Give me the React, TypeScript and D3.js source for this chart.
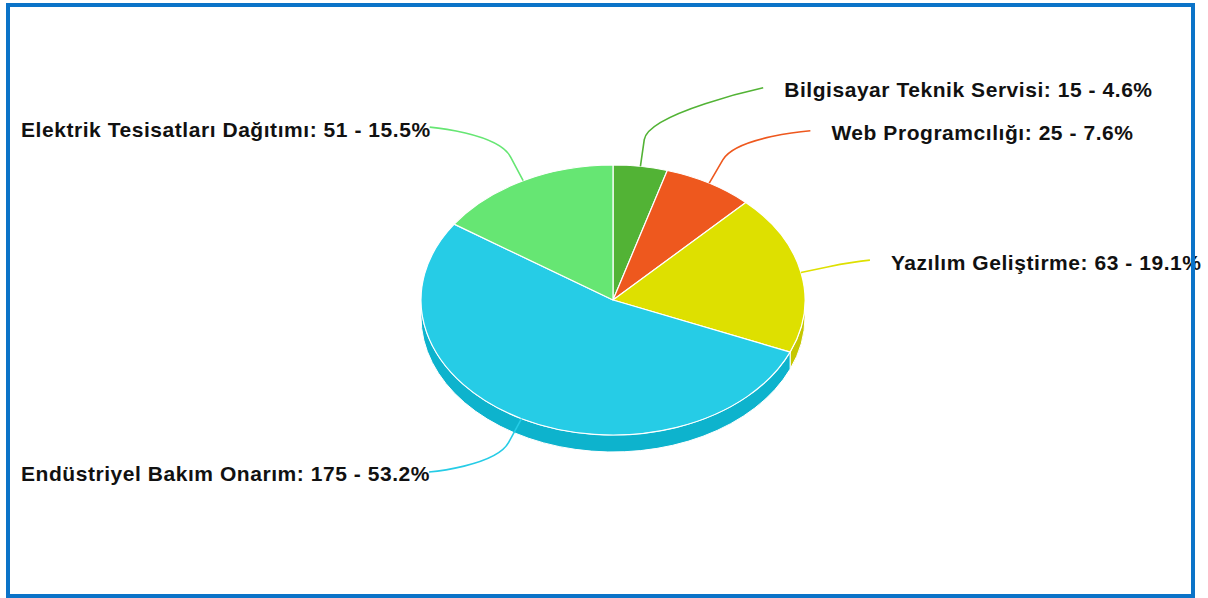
import React, { useMemo } from 'react';
import * as d3 from 'd3';

// ---- data ----
const categories = [
  'Bilgisayar Teknik Servisi',
  'Web Programcılığı',
  'Yazılım Geliştirme',
  'Endüstriyel Bakım Onarım',
  'Elektrik Tesisatları Dağıtımı',
];
const values = [15, 25, 63, 175, 51];
const colors = ['#52b335', '#ee581e', '#dee000', '#26cce6', '#66e673'];

// ---- layout ----
const W = 1208;
const H = 598;
const CX = 613;
const CY = 300;
const RX = 192;
const RY = 135;
const DEPTH = 17;
const FONT_SIZE = 21;
const LS = 0.55;
const FONT = `bold ${FONT_SIZE}px "Liberation Sans", Arial, sans-serif`;
const LABEL_K = 195.6;
const LABEL_CY = 300;
const LABEL_R = 260;
const GAP = 43;
const BREAK = 27;
const LEFT_MIN = 20;
const RIGHT_PAD = 21;

function pt(a: number, dy = 0): [number, number] {
  return [CX + RX * Math.sin(a), CY - RY * Math.cos(a) + dy];
}

function sideColor(c: string) {
  const col = d3.rgb(c);
  return d3.rgb(Math.max(0, col.r - 25.5), Math.max(0, col.g - 25.5), Math.max(0, col.b - 25.5)).formatHex();
}

function measure(text: string) {
  try {
    const ctx = document.createElement('canvas').getContext('2d')!;
    ctx.font = FONT;
    return ctx.measureText(text).width + LS * text.length;
  } catch (e) {
    return text.length * FONT_SIZE * 0.55;
  }
}

export default function App() {
  const total = d3.sum(values);
  const arcs = useMemo(
    () => d3.pie<number>().sort(null).value((d) => d)(values),
    []
  );
  const arcGen = d3.arc<d3.PieArcDatum<number>>().innerRadius(0).outerRadius(RX);

  // sides
  const sides = arcs
    .map((a, i) => {
      const s = Math.max(a.startAngle, Math.PI / 2);
      const e = Math.min(a.endAngle, (3 * Math.PI) / 2);
      if (e <= s) return null;
      const p0 = pt(s);
      const p1 = pt(e);
      const large = e - s > Math.PI ? 1 : 0;
      const d = `M${p0[0]},${p0[1]} A${RX},${RY} 0 ${large} 1 ${p1[0]},${p1[1]} L${p1[0]},${p1[1] + DEPTH} A${RX},${RY} 0 ${large} 0 ${p0[0]},${p0[1] + DEPTH} Z`;
      return { d, fill: sideColor(colors[i]), key: i };
    })
    .filter(Boolean) as { d: string; fill: string; key: number }[];

  // labels
  const labels = arcs.map((a, i) => {
    const mid = (a.startAngle + a.endAngle) / 2;
    const right = mid < Math.PI;
    const text = `${categories[i]}: ${values[i]} - ${((values[i] / total) * 100).toFixed(1)}%`;
    return {
      i,
      mid,
      right,
      text,
      value: values[i],
      width: measure(text),
      y: LABEL_CY - LABEL_K * Math.cos(mid),
    };
  });

  // rank-based distribution per side
  [true, false].forEach((side) => {
    const group = labels.filter((l) => l.right === side).sort((a, b) => b.value - a.value);
    const placed: typeof labels = [];
    group.forEach((l) => {
      let moved = true;
      let guard = 0;
      while (moved && guard < 10) {
        moved = false;
        guard++;
        for (const p of placed) {
          if (Math.abs(l.y - p.y) < GAP - 0.01) {
            l.y = l.y < p.y ? p.y - GAP : p.y + GAP;
            moved = true;
          }
        }
      }
      placed.push(l);
    });
  });

  const labelItems = labels.map((l) => {
    const dy = l.y - LABEL_CY;
    const dx = Math.sqrt(Math.max(0, LABEL_R * LABEL_R - dy * dy));
    let ex = l.right ? CX + dx : CX - dx;
    if (!l.right) ex = Math.max(ex, LEFT_MIN + l.width);
    const base = pt(l.mid);
    const brk: [number, number] = [base[0] + BREAK * Math.sin(l.mid), base[1] - BREAK * Math.cos(l.mid)];
    const c2: [number, number] = [2 * brk[0] - base[0], 2 * brk[1] - base[1]];
    const d = `M${ex},${l.y} C${ex},${l.y} ${c2[0]},${c2[1]} ${brk[0]},${brk[1]} L${base[0]},${base[1]}`;
    const tx = l.right ? ex + RIGHT_PAD : ex + 1;
    return { ...l, d, tx, ty: l.y + 9.5 };
  });

  return (
    <svg
      width={W}
      height={H}
      style={{ position: 'absolute', left: 0, top: 0, background: '#fff' }}
    >
      <rect x={0} y={0} width={W} height={H} fill="#fff" />
      <g>
        {sides.map((s) => (
          <path key={s.key} d={s.d} fill={s.fill} stroke="#fff" strokeWidth={1} strokeLinejoin="round" />
        ))}
      </g>
      <g transform={`translate(${CX},${CY}) scale(1,${RY / RX})`}>
        {arcs.map((a, i) => (
          <path
            key={i}
            d={arcGen(a) || ''}
            fill={colors[i]}
            stroke="#fff"
            strokeWidth={1.2}
            strokeLinejoin="round"
            vectorEffect="non-scaling-stroke"
          />
        ))}
      </g>
      <g>
        {labelItems.map((l) => (
          <path key={l.i} d={l.d} fill="none" stroke={colors[l.i]} strokeWidth={1.6} />
        ))}
      </g>
      <g>
        {labelItems.map((l) => (
          <text
            key={l.i}
            x={l.tx}
            y={l.ty}
            textAnchor={l.right ? 'start' : 'end'}
            style={{ font: FONT, letterSpacing: `${LS}px` }}
            fill="#111"
          >
            {l.text}
          </text>
        ))}
      </g>
      <rect x={8} y={5} width={1185} height={591} fill="none" stroke="#0b73c8" strokeWidth={4} />
    </svg>
  );
}
